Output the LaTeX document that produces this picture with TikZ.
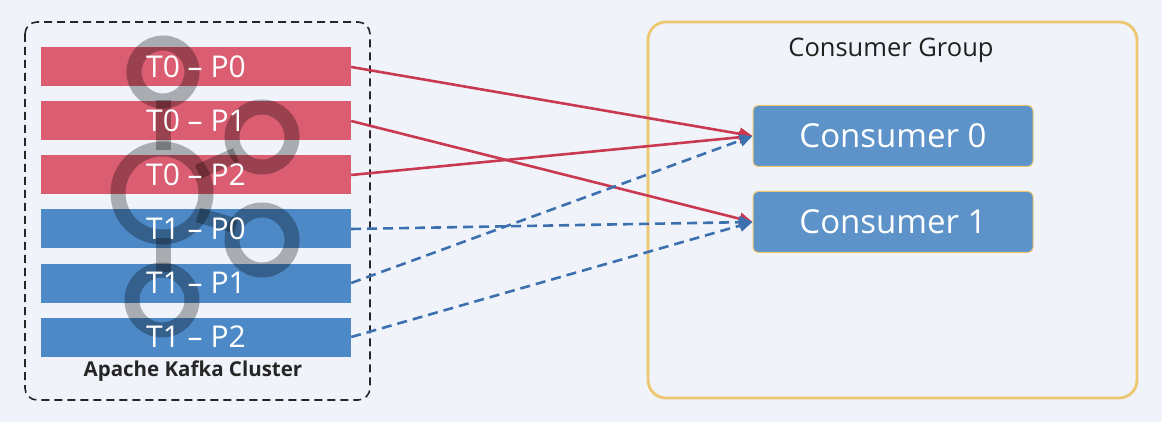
\documentclass[tikz,border=0pt]{standalone}
\usepackage{fontspec}
\setmainfont{Open Sans}
\usetikzlibrary{arrows.meta}
\definecolor{bg}{HTML}{F0F4FA}
\definecolor{redbox}{HTML}{DA5D71}
\definecolor{bluebox}{HTML}{4D89C7}
\definecolor{consbox}{HTML}{5E93CA}
\definecolor{gold}{HTML}{EDC670}
\definecolor{redline}{HTML}{C93A52}
\definecolor{blueline}{HTML}{3D70AE}
\definecolor{ring}{HTML}{B4B4B4}
\tikzset{
  x=1pt, y=-1pt,
  part/.style={draw=none, minimum width=310pt, minimum height=39pt, inner sep=0pt},
  redpart/.style={part, fill=redbox},
  bluepart/.style={part, fill=bluebox},
  parttext/.style={inner sep=0pt, text=white, font=\fontsize{30}{32}\selectfont},
  consumer/.style={draw=gold, line width=1pt, fill=consbox, rounded corners=5pt,
    minimum width=280pt, minimum height=61pt, inner sep=0pt, text=white,
    font=\fontsize{33}{35}\selectfont},
  redarrow/.style={draw=redline, line width=2.6pt, -{Triangle[length=13pt,width=12pt]}},
  bluearrow/.style={draw=blueline, line width=2.6pt, dash pattern=on 10pt off 6pt,
    -{Triangle[length=13pt,width=12pt]}},
  logo/.style={draw=ring, line width=15pt}
}
\begin{document}
\begin{tikzpicture}
\fill[bg] (0,0) rectangle (1162,422);
\useasboundingbox (0,0) rectangle (1162,422);

% cluster frame
\draw[black!85, line width=1.6pt, dash pattern=on 8pt off 5pt, rounded corners=12pt]
  (25,22) rectangle (370,400);

% partitions
\node[redpart]  (p00) at (196,67)  {};
\node[redpart]  (p01) at (196,121) {};
\node[redpart]  (p02) at (196,175) {};
\node[bluepart] (p10) at (196,229) {};
\node[bluepart] (p11) at (196,283) {};
\node[bluepart] (p12) at (196,337) {};

% kafka logo watermark
\begin{scope}[blend mode=multiply]
\draw[logo] (163,100) -- (163,150);
\draw[logo] (163,238) -- (163,272);
\draw[logo] (198,172) -- (236,155);
\draw[logo] (198,215) -- (236,226);
\draw[logo] (163,72) circle (29);
\draw[logo] (262,137) circle (30);
\draw[logo] (162,193) circle (44);
\draw[logo] (262,240) circle (30);
\draw[logo] (162,300) circle (30);
\end{scope}

\node[parttext] (t00) at (p00) {T0 – P0};
\node[parttext] (t01) at (p01) {T0 – P1};
\node[parttext] (t02) at (p02) {T0 – P2};
\node[parttext] (t10) at (p10) {T1 – P0};
\node[parttext] (t11) at (p11) {T1 – P1};
\node[parttext] (t12) at (p12) {T1 – P2};

\node[font=\bfseries\fontsize{20.5}{22}\selectfont, text=black!85] (lbl) at (193,371) {Apache Kafka Cluster};

% consumer group
\draw[gold, line width=2.8pt, rounded corners=18pt] (648,22) rectangle (1137,398);
\node[font=\fontsize{25.5}{27}\selectfont, text=black!88] (cg) at (891,50) {Consumer Group};
\node[consumer] (c0) at (893,136) {Consumer 0};
\node[consumer] (c1) at (893,222) {Consumer 1};

% connectors
\draw[redarrow] (p00.east) -- (c0.west);
\draw[redarrow] (p01.east) -- (c1.west);
\draw[redarrow] (p02.east) -- (c0.west);
\draw[bluearrow] (p10.east) -- (c1.west);
\draw[bluearrow] (p11.east) -- (c0.west);
\draw[bluearrow] (p12.east) -- (c1.west);
\end{tikzpicture}
\end{document}
